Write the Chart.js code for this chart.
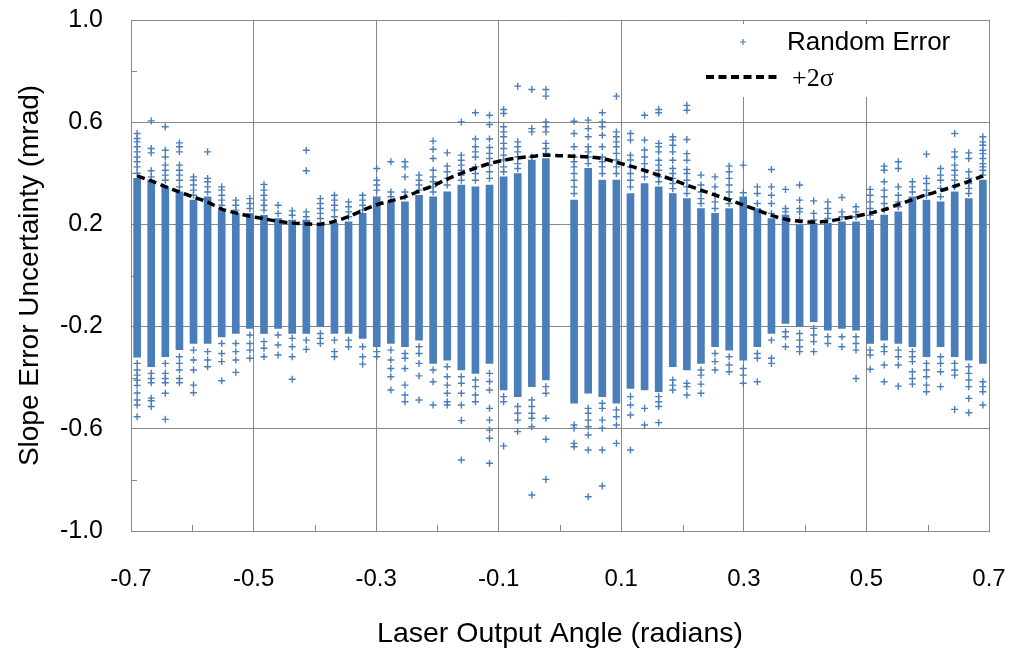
<!DOCTYPE html>
<html><head><meta charset="utf-8">
<script src="https://cdn.jsdelivr.net/npm/chart.js@4.4.1/dist/chart.umd.min.js"></script>
<style>html,body{margin:0;padding:0;background:#fff;}canvas{display:block;}</style>
</head><body>
<canvas id="c" width="1011" height="652"></canvas>
<script>
// ---- data ----
const angles = [-0.690,-0.667,-0.644,-0.621,-0.598,-0.575,-0.552,-0.529,-0.506,-0.483,-0.460,-0.437,-0.414,-0.391,-0.368,-0.345,-0.322,-0.299,-0.276,-0.253,-0.230,-0.207,-0.184,-0.161,-0.138,-0.115,-0.092,-0.069,-0.046,-0.023,
  0.023,0.046,0.069,0.092,0.115,0.138,0.161,0.184,0.207,0.230,0.253,0.276,0.299,0.322,0.345,0.368,0.391,0.414,0.437,0.460,0.483,0.506,0.529,0.552,0.575,0.598,0.621,0.644,0.667,0.690];

// dense band of each column (low / high end)
const coreLow = [-0.32,-0.357,-0.318,-0.29,-0.266,-0.266,-0.24,-0.227,-0.207,-0.227,-0.207,-0.227,-0.227,-0.2,-0.227,-0.227,-0.246,-0.279,-0.266,-0.279,-0.253,-0.344,-0.331,-0.37,-0.383,-0.344,-0.448,-0.474,-0.435,-0.409,
  -0.5,-0.461,-0.474,-0.5,-0.442,-0.448,-0.455,-0.357,-0.37,-0.344,-0.279,-0.292,-0.331,-0.279,-0.227,-0.188,-0.2,-0.181,-0.214,-0.207,-0.214,-0.266,-0.253,-0.266,-0.279,-0.318,-0.279,-0.318,-0.331,-0.344];
const coreHigh = [0.38,0.373,0.347,0.327,0.295,0.308,0.256,0.243,0.243,0.236,0.223,0.217,0.217,0.204,0.204,0.21,0.243,0.308,0.288,0.288,0.314,0.308,0.327,0.354,0.347,0.354,0.386,0.399,0.452,0.458,
  0.295,0.419,0.373,0.373,0.321,0.36,0.347,0.321,0.301,0.262,0.243,0.262,0.308,0.262,0.223,0.236,0.197,0.204,0.204,0.21,0.21,0.217,0.236,0.249,0.308,0.295,0.288,0.327,0.301,0.373];

// separate points above the dense band
const upperPoints = [
  [0.556,0.536,0.523,0.504,0.484,0.464,0.445,0.425,0.40],
  [0.605,0.497,0.48,0.41,0.386],
  [0.582,0.49,0.464,0.432,0.412,0.393,0.373],
  [0.519,0.504,0.484,0.432,0.412,0.393,0.373,0.347],
  [0.386,0.373,0.354,0.334,0.314],
  [0.484,0.38,0.367,0.347,0.327],
  [0.347,0.334,0.314,0.295,0.275],
  [0.295,0.275,0.256],
  [0.301,0.282,0.262],
  [0.356,0.334,0.314,0.295,0.275,0.256],
  [0.275,0.243],
  [0.253,0.236],
  [0.49,0.41,0.249,0.23],
  [0.301,0.282,0.262,0.243,0.223],
  [0.314,0.295,0.275,0.256,0.23],
  [0.288,0.269,0.249,0.23],
  [0.314,0.295,0.275,0.256],
  [0.419,0.373,0.354,0.334],
  [0.445,0.327,0.308],
  [0.445,0.425,0.386,0.327,0.308],
  [0.393,0.373,0.354,0.334],
  [0.526,0.494,0.458,0.412,0.386,0.367,0.347,0.327],
  [0.48,0.428,0.406,0.38,0.354],
  [0.601,0.471,0.451,0.432,0.412,0.393,0.373],
  [0.637,0.534,0.504,0.484,0.464,0.425,0.399,0.373],
  [0.627,0.591,0.534,0.501,0.478,0.458,0.432,0.406,0.38],
  [0.65,0.634,0.582,0.562,0.543,0.517,0.497,0.471,0.452,0.425,0.406],
  [0.741,0.523,0.504,0.484,0.464,0.438,0.419],
  [0.728,0.575,0.562,0.464],
  [0.728,0.702,0.601,0.582,0.562,0.517,0.497,0.478],
  [0.604,0.556,0.504,0.464,0.445,0.425,0.399,0.373,0.347,0.321],
  [0.608,0.575,0.543,0.504,0.484,0.464,0.438],
  [0.637,0.601,0.582,0.549,0.504,0.464,0.445,0.425,0.399],
  [0.702,0.562,0.543,0.523,0.504,0.478,0.452,0.425,0.399],
  [0.556,0.53,0.471,0.452,0.425,0.399,0.373,0.347],
  [0.627,0.53,0.491,0.464,0.438,0.412,0.386],
  [0.65,0.637,0.517,0.504,0.484,0.451,0.432,0.412,0.386,0.367],
  [0.543,0.53,0.51,0.484,0.451,0.419,0.399,0.38,0.36,0.34],
  [0.666,0.647,0.532,0.477,0.451,0.415,0.399,0.373,0.347,0.321],
  [0.393,0.354,0.327,0.301,0.282],
  [0.386,0.347,0.314,0.288,0.262],
  [0.428,0.406,0.38,0.354,0.327,0.301,0.282],
  [0.432,0.324],
  [0.347,0.321,0.282],
  [0.415,0.347,0.314,0.282,0.243],
  [0.337,0.262,0.249],
  [0.354,0.295,0.262,0.249,0.217],
  [0.292,0.243,0.217],
  [0.288,0.262,0.243,0.223],
  [0.305,0.249,0.23],
  [0.269,0.249,0.23],
  [0.337,0.314,0.288,0.262,0.236],
  [0.428,0.412,0.367,0.334,0.308,0.282,0.256],
  [0.445,0.419,0.347,0.314,0.288,0.269],
  [0.367,0.347,0.327],
  [0.475,0.38,0.36,0.334,0.314],
  [0.419,0.393,0.373,0.341,0.308],
  [0.556,0.484,0.464,0.432,0.412,0.393,0.373,0.347],
  [0.48,0.458,0.406,0.38,0.36,0.341,0.321],
  [0.543,0.523,0.51,0.49,0.477,0.458,0.438,0.425,0.412,0.393]
];

// separate points below the dense band
const lowerPoints = [
  [-0.344,-0.37,-0.39,-0.41,-0.43,-0.46,-0.487,-0.507,-0.553],
  [-0.383,-0.403,-0.42,-0.48,-0.49,-0.513],
  [-0.344,-0.383,-0.403,-0.42,-0.461,-0.563],
  [-0.318,-0.344,-0.37,-0.403,-0.42],
  [-0.292,-0.331,-0.37,-0.429,-0.459],
  [-0.298,-0.331,-0.357],
  [-0.266,-0.305,-0.337,-0.412],
  [-0.266,-0.298,-0.331,-0.379],
  [-0.233,-0.266,-0.292,-0.324],
  [-0.259,-0.285,-0.318],
  [-0.233,-0.272,-0.311],
  [-0.246,-0.279,-0.318,-0.406],
  [-0.253,-0.289],
  [-0.227,-0.246,-0.266],
  [-0.253,-0.298,-0.318],
  [-0.253,-0.279],
  [-0.279,-0.318,-0.347],
  [-0.298,-0.318],
  [-0.292,-0.331,-0.364,-0.396,-0.448],
  [-0.305,-0.324,-0.364,-0.429,-0.468,-0.494],
  [-0.279,-0.305,-0.344,-0.393,-0.487],
  [-0.37,-0.416,-0.507],
  [-0.357,-0.396,-0.429,-0.461,-0.494,-0.507],
  [-0.396,-0.422,-0.461,-0.507,-0.568,-0.722],
  [-0.409,-0.435,-0.468,-0.494],
  [-0.383,-0.415,-0.448,-0.52,-0.566,-0.605,-0.637,-0.735],
  [-0.474,-0.494,-0.667],
  [-0.513,-0.539,-0.566,-0.611],
  [-0.487,-0.513,-0.539,-0.559,-0.592,-0.859],
  [-0.435,-0.461,-0.559,-0.641,-0.798],
  [-0.585,-0.598,-0.657,-0.67],
  [-0.52,-0.539,-0.566,-0.592,-0.624,-0.683,-0.866],
  [-0.5,-0.52,-0.566,-0.598,-0.683,-0.824],
  [-0.526,-0.553,-0.585,-0.657],
  [-0.474,-0.507,-0.546,-0.683],
  [-0.52,-0.585],
  [-0.474,-0.494,-0.513,-0.576],
  [-0.409,-0.429,-0.448],
  [-0.422,-0.435,-0.468],
  [-0.37,-0.39,-0.425,-0.461],
  [-0.305,-0.337,-0.37],
  [-0.318,-0.35,-0.377],
  [-0.364,-0.39,-0.422],
  [-0.305,-0.324,-0.416],
  [-0.253,-0.324,-0.344],
  [-0.22,-0.24,-0.279],
  [-0.227,-0.253,-0.279,-0.298],
  [-0.207,-0.233,-0.259,-0.298],
  [-0.24,-0.266],
  [-0.24,-0.279],
  [-0.24,-0.266,-0.292,-0.403],
  [-0.292,-0.311,-0.367],
  [-0.279,-0.298,-0.35,-0.416],
  [-0.292,-0.318,-0.35,-0.433],
  [-0.298,-0.318,-0.337,-0.377,-0.403,-0.425],
  [-0.344,-0.37,-0.396,-0.429,-0.455],
  [-0.318,-0.344,-0.377,-0.435],
  [-0.344,-0.37,-0.39,-0.524],
  [-0.357,-0.383,-0.409,-0.435,-0.481,-0.537],
  [-0.416,-0.435,-0.455,-0.507]
];

// +2 sigma curve
const sigmaAngles = [-0.690,-0.667,-0.644,-0.621,-0.598,-0.575,-0.552,-0.529,-0.506,-0.483,-0.460,-0.437,-0.414,-0.391,-0.368,-0.345,-0.322,-0.299,-0.276,-0.253,-0.230,-0.207,-0.184,-0.161,-0.138,-0.115,-0.092,-0.069,-0.046,-0.023,0,
  0.023,0.046,0.069,0.092,0.115,0.138,0.161,0.184,0.207,0.230,0.253,0.276,0.299,0.322,0.345,0.368,0.391,0.414,0.437,0.460,0.483,0.506,0.529,0.552,0.575,0.598,0.621,0.644,0.667,0.690];
const sigmaValues = [0.39,0.37,0.348,0.327,0.307,0.287,0.26,0.245,0.232,0.222,0.212,0.205,0.202,0.201,0.212,0.23,0.255,0.277,0.292,0.308,0.33,0.352,0.377,0.4,0.42,0.438,0.451,0.46,0.466,0.471,0.469,
  0.467,0.464,0.458,0.443,0.428,0.411,0.393,0.375,0.354,0.334,0.315,0.296,0.276,0.256,0.235,0.22,0.212,0.209,0.212,0.222,0.232,0.244,0.258,0.278,0.297,0.316,0.332,0.35,0.368,0.39];

const xTickLabels = ['-0.7','-0.5','-0.3','-0.1','0.1','0.3','0.5','0.7'];
const yTickLabels = ['-1.0','-0.6','-0.2','0.2','0.6','1.0'];
const seriesNames = ['Random Error', '+2\u03c3'];

// ---- styling ----
const BLUE = '#4A7EBB';
const GRID = '#888888';
const SANS = "'Liberation Sans', Arial, sans-serif";
const SERIF = "'Liberation Serif', 'Times New Roman', serif";

const bandData = angles.map((a, i) => ({x: a, y: [coreLow[i], coreHigh[i]]}));
const pointData = [];
angles.forEach((a, i) => {
  upperPoints[i].forEach(v => pointData.push({x: a, y: v}));
  lowerPoints[i].forEach(v => pointData.push({x: a, y: v}));
});
const sigmaData = sigmaAngles.map((a, i) => ({x: a, y: sigmaValues[i]}));

const minorX = [-0.6,-0.4,-0.2,0,0.2,0.4,0.6];
const minorY = [-0.8,-0.4,0,0.4,0.8];

const decor = {
  id: 'decor',
  beforeDatasetsDraw(chart) {
    const {ctx, chartArea: ca, scales: {x, y}} = chart;
    ctx.save();
    ctx.strokeStyle = GRID; ctx.lineWidth = 1;
    minorX.forEach(v => {
      const px = Math.round(x.getPixelForValue(v)) + 0.5;
      ctx.beginPath(); ctx.moveTo(px, ca.bottom); ctx.lineTo(px, ca.bottom - 6); ctx.stroke();
    });
    minorY.forEach(v => {
      const py = Math.round(y.getPixelForValue(v)) + 0.5;
      ctx.beginPath(); ctx.moveTo(ca.left, py); ctx.lineTo(ca.left + 6, py); ctx.stroke();
    });
    ctx.restore();
  },
  afterDraw(chart) {
    const {ctx, chartArea: ca} = chart;
    ctx.save();
    ctx.fillStyle = '#fff';
    ctx.fillRect(ca.right - 289, ca.top + 4, 286, 73);
    // entry 1 : marker
    const mx = ca.right - 246, my = ca.top + 22;
    ctx.strokeStyle = BLUE; ctx.lineWidth = 1.2;
    ctx.beginPath(); ctx.moveTo(mx - 3, my); ctx.lineTo(mx + 3, my); ctx.moveTo(mx, my - 3); ctx.lineTo(mx, my + 3); ctx.stroke();
    ctx.fillStyle = '#000'; ctx.textBaseline = 'middle'; ctx.textAlign = 'left';
    ctx.font = '26px ' + SANS;
    ctx.fillText(seriesNames[0], ca.right - 202, my + 1);
    // entry 2 : dashed line
    const ly = ca.top + 57;
    ctx.strokeStyle = '#000'; ctx.lineWidth = 4; ctx.setLineDash([8, 4.5]);
    ctx.beginPath(); ctx.moveTo(ca.right - 283, ly); ctx.lineTo(ca.right - 209, ly); ctx.stroke();
    ctx.setLineDash([]);
    ctx.font = '26px ' + SERIF;
    ctx.fillText(seriesNames[1], ca.right - 197, ly + 2);
    ctx.restore();
  }
};

new Chart(document.getElementById('c'), {
  type: 'scatter',
  data: {
    datasets: [
      {type: 'line', label: seriesNames[1], data: sigmaData, borderColor: '#000', borderWidth: 3.5,
       borderDash: [8, 4.5], pointRadius: 0, fill: false, tension: 0.3, order: 0},
      {type: 'scatter', label: seriesNames[0], data: pointData, pointStyle: 'cross', pointRadius: 3.5,
       borderColor: BLUE, backgroundColor: BLUE, borderWidth: 1.4, order: 1},
      {type: 'bar', label: 'band', data: bandData, backgroundColor: BLUE, borderWidth: 0,
       barThickness: 7, order: 2}
    ]
  },
  options: {
    responsive: false,
    animation: false,
    devicePixelRatio: 1,
    layout: {padding: {left: 0, right: 22, top: 20, bottom: 0}},
    plugins: {legend: {display: false}, tooltip: {enabled: false}},
    scales: {
      x: {
        type: 'linear', min: -0.7, max: 0.7, offset: false,
        grid: {color: GRID, lineWidth: 1, drawTicks: true, tickLength: 34, tickColor: 'rgba(0,0,0,0)', offset: false},
        border: {color: GRID, width: 1},
        ticks: {stepSize: 0.2, padding: 0, color: '#000', maxRotation: 0, autoSkip: false,
                font: {family: SANS, size: 24},
                callback: (v, i) => xTickLabels[i]},
        title: {display: true, text: 'Laser Output Angle (radians)', color: '#000',
                font: {family: SANS, size: 28.5}, padding: {top: 0, bottom: 1}},
        afterFit: s => { s.height = 121; }
      },
      y: {
        type: 'linear', min: -1, max: 1,
        grid: {color: GRID, lineWidth: 1, drawTicks: true, tickLength: 28, tickColor: 'rgba(0,0,0,0)'},
        border: {color: GRID, width: 1},
        ticks: {stepSize: 0.4, padding: 0, color: '#000',
                font: {family: SANS, size: 25},
                callback: (v, i) => yTickLabels[i]},
        title: {display: true, text: 'Slope Error Uncertainty (mrad)', color: '#000',
                font: {family: SANS, size: 28}, padding: {top: 13, bottom: 0}},
        afterFit: s => { s.width = 131; }
      }
    }
  },
  plugins: [decor]
});
</script>
</body></html>
